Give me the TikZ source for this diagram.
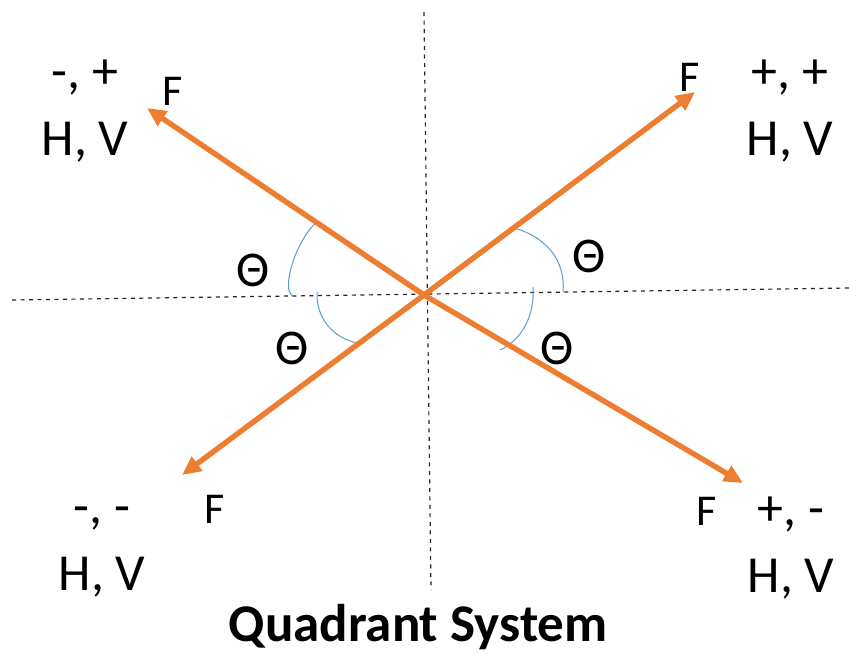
\documentclass[tikz,border=0pt]{standalone}
\usepackage{fontspec}
\setmainfont{Carlito}
\usetikzlibrary{arrows.meta}
\definecolor{forceorange}{HTML}{ED7D31}
\definecolor{arcblue}{HTML}{5B9BD5}

\begin{document}
\begin{tikzpicture}[x=1pt, y=-1pt, >={Triangle[length=19pt, width=17pt]},
    axis/.style={draw=black!85, line width=1.2pt, dash pattern=on 4pt off 4.5pt},
    force/.style={->, draw=forceorange, line width=5.4pt},
    anglearc/.style={draw=arcblue, line width=1pt},
    quad/.style={align=center, anchor=base, inner sep=0pt,
                 font=\fontsize{52}{67}\selectfont},
    flabel/.style={anchor=base, inner sep=0pt, font=\fontsize{44}{50}\selectfont},
    ang/.style={inner sep=0pt, font=\fontsize{50}{56}\selectfont}]
  \useasboundingbox (0,0) rectangle (849,654);

  \coordinate (O) at (424,295);
  \coordinate (xl) at (12,300);
  \coordinate (xr) at (849,288);
  \coordinate (yt) at (424,12);
  \coordinate (yb) at (431,590);
  \coordinate (tl) at (147,108);
  \coordinate (tr) at (695,92);
  \coordinate (bl) at (182,475);
  \coordinate (br) at (743,483);

  \draw[axis] (xl) -- (xr);
  \draw[axis] (yt) -- (yb);

  \draw[anglearc] (317,222) .. controls (297,238) and (280,290) .. (293,296);
  \draw[anglearc] (510,227) .. controls (545,235) and (566,260) .. (563,292);
  \draw[anglearc] (317,292) .. controls (316,320) and (335,340) .. (362,344);
  \draw[anglearc] (533,287) .. controls (535,315) and (522,340) .. (500,350);

  \draw[force] (O) -- (tl);
  \draw[force] (O) -- (tr);
  \draw[force] (O) -- (bl);
  \draw[force] (O) -- (br);

  \node[quad] (qtl) at (85,155) {-, +\\H, V};
  \node[quad] (qtr) at (790,155) {+, +\\H, V};
  \node[quad] (qbl) at (102,590) {-, -\\H, V};
  \node[quad] (qbr) at (791,592) {+, -\\H, V};

  \node[flabel] (ftl) at (173,105) {F};
  \node[flabel] (ftr) at (690,91) {F};
  \node[flabel] (fbl) at (215,523) {F};
  \node[flabel] (fbr) at (707,525) {F};

  \node[ang] (thtr) at (589,256) {Θ};
  \node[ang] (thtl) at (253,270) {Θ};
  \node[ang] (thbl) at (292,348) {Θ};
  \node[ang] (thbr) at (557,348) {Θ};

  \node[anchor=base, inner sep=0pt, font=\bfseries\fontsize{53}{60}\selectfont]
    (title) at (418,641) {Quadrant System};
\end{tikzpicture}
\end{document}
